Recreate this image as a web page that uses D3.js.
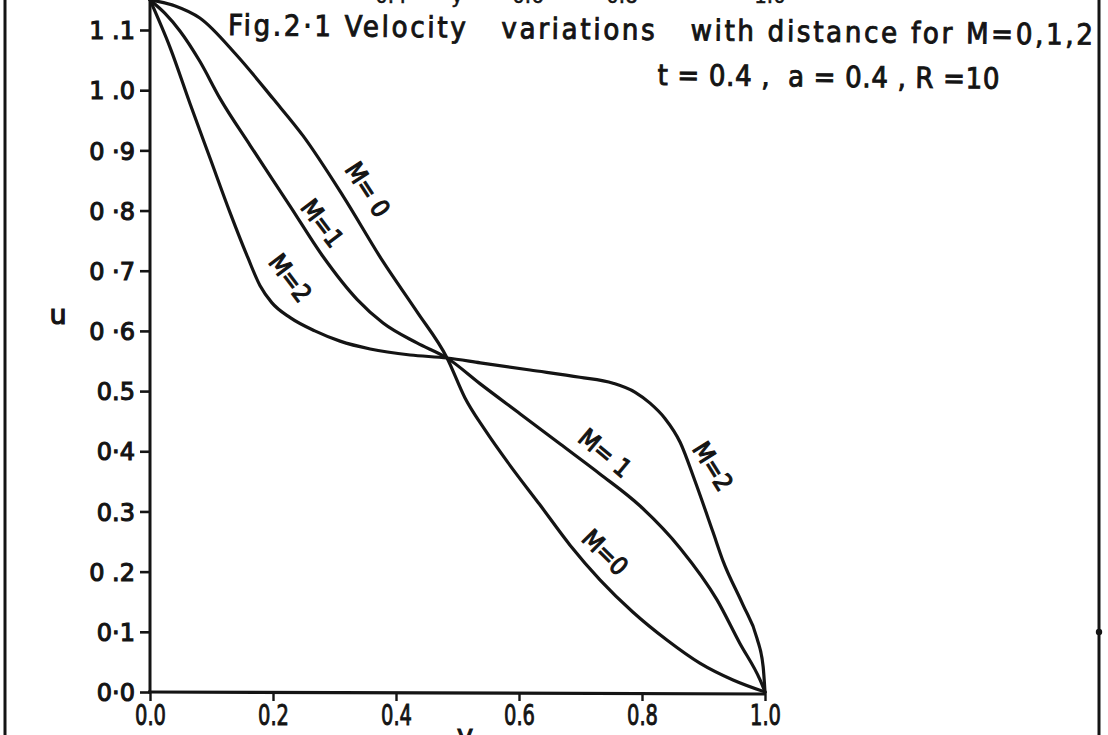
<!DOCTYPE html>
<html>
<head>
<meta charset="utf-8">
<script src="https://cdn.jsdelivr.net/npm/d3@7/dist/d3.min.js"></script>
<style>
  html, body { margin: 0; padding: 0; background: #ffffff; }
  svg { display: block; }
  text { fill: #141414; }
</style>
</head>
<body>
<script>
// Velocity profile u(y) for three values of M
const yPositions = [0, 0.2, 0.4, 0.6, 0.8, 1.0];
const xTickLabels = ["0.0", "0.2", "0.4", "0.6", "0.8", "1.0"];
const uTicks = [0, 0.1, 0.2, 0.3, 0.4, 0.5, 0.6, 0.7, 0.8, 0.9, 1.0, 1.1];
const uTickLabels = ["0·0", "0·1", "0 .2", "0.3", "0·4", "0.5", "0 ·6", "0 ·7", "0 ·8", "0 ·9", "1 .0", "1 .1"];

const seriesNames = ["M=0", "M=1", "M=2"];

const yM0 = [0, 0.041, 0.081, 0.141, 0.200, 0.249, 0.314, 0.379, 0.434, 0.483, 0.512, 0.545, 0.585, 0.634, 0.683, 0.732, 0.785, 0.841, 0.894, 0.948, 1.0];
const uM0 = [1.15, 1.140, 1.120, 1.058, 0.986, 0.924, 0.824, 0.715, 0.632, 0.555, 0.489, 0.435, 0.377, 0.311, 0.244, 0.186, 0.133, 0.086, 0.048, 0.020, 0.0];

const yM1 = [0, 0.024, 0.049, 0.081, 0.114, 0.163, 0.228, 0.281, 0.337, 0.379, 0.434, 0.483, 0.537, 0.602, 0.667, 0.732, 0.797, 0.862, 0.922, 0.959, 0.992, 1.0];
const uM1 = [1.15, 1.128, 1.098, 1.048, 0.986, 0.908, 0.807, 0.724, 0.652, 0.613, 0.580, 0.555, 0.512, 0.462, 0.412, 0.362, 0.309, 0.239, 0.153, 0.081, 0.020, 0.0];

const yM2 = [0, 0.033, 0.065, 0.098, 0.130, 0.159, 0.179, 0.198, 0.228, 0.268, 0.309, 0.358, 0.423, 0.483, 0.537, 0.618, 0.699, 0.753, 0.789, 0.813, 0.837, 0.862, 0.886, 0.915, 0.932, 0.964, 0.987, 0.997, 1.0];
const uM2 = [1.15, 1.070, 0.978, 0.886, 0.797, 0.722, 0.675, 0.647, 0.622, 0.600, 0.583, 0.570, 0.560, 0.555, 0.547, 0.535, 0.523, 0.513, 0.498, 0.480, 0.455, 0.415, 0.351, 0.267, 0.217, 0.145, 0.089, 0.042, 0.0];

const W = 1108, H = 735;
const ink = "#141414";
const condensed = "'DejaVu Sans Condensed', 'DejaVu Sans', sans-serif";

const svg = d3.select("body").append("svg")
  .attr("width", W).attr("height", H)
  .attr("viewBox", `0 0 ${W} ${H}`);

svg.append("rect").attr("width", W).attr("height", H).attr("fill", "#ffffff");

const x = d3.scaleLinear().domain([0, 1]).range([150, 765]);
const y = d3.scaleLinear().domain([0, 1.1]).range([692, 30]);

// page frame
svg.append("line").attr("x1", 5).attr("x2", 5).attr("y1", 0).attr("y2", H)
  .attr("stroke", ink).attr("stroke-width", 3);
svg.append("line").attr("x1", 1099).attr("x2", 1099).attr("y1", 0).attr("y2", H)
  .attr("stroke", ink).attr("stroke-width", 3);
svg.append("circle").attr("cx", 1099).attr("cy", 632).attr("r", 3.2).attr("fill", ink);

// lettering from the figure above, cut at the page edge
const topFrag = svg.append("g").attr("font-family", condensed)
  .attr("font-size", 22).attr("text-anchor", "middle")
  .attr("stroke", ink).attr("stroke-width", 0.5);
[["0.4", 391, 3], ["y", 457, 3], ["0.6", 528, 3], ["0.8", 622, 3], ["1.0", 770, 3]]
  .forEach(([t, px, by]) => topFrag.append("text").attr("x", px).attr("y", by).text(t));

// u axis
const yAxis = d3.axisLeft(y)
  .tickValues(uTicks)
  .tickFormat((d, i) => uTickLabels[i])
  .tickSize(10).tickPadding(5);
const gy = svg.append("g").attr("transform", `translate(${x(0)},0)`).call(yAxis);
gy.select(".domain").remove();
gy.selectAll(".tick line").attr("stroke", ink).attr("stroke-width", 2.6);
gy.selectAll(".tick text")
  .attr("font-family", "'DejaVu Sans', sans-serif")
  .attr("font-size", 24)
  .attr("stroke", ink).attr("stroke-width", 1.1)
  .attr("dy", "0.36em")
  .style("white-space", "pre")
  .attr("fill", ink);
svg.append("line")
  .attr("x1", x(0)).attr("x2", x(0)).attr("y1", 0).attr("y2", y(0) + 1)
  .attr("stroke", ink).attr("stroke-width", 3);

// y axis (horizontal)
const xAxis = d3.axisBottom(x)
  .tickValues(yPositions)
  .tickFormat((d, i) => xTickLabels[i])
  .tickSize(9).tickPadding(3);
const gx = svg.append("g").attr("transform", `translate(0,${y(0)})`).call(xAxis);
gx.select(".domain").remove();
gx.selectAll(".tick line").attr("stroke", ink).attr("stroke-width", 2.4);
gx.selectAll(".tick text")
  .attr("font-family", condensed)
  .attr("font-size", 29)
  .attr("stroke", ink).attr("stroke-width", 0.9)
  .attr("textLength", 31).attr("lengthAdjust", "spacingAndGlyphs")
  .attr("fill", ink);
svg.append("line")
  .attr("x1", x(0) - 2).attr("x2", x(1) + 1).attr("y1", y(0)).attr("y2", y(0) + 2)
  .attr("stroke", ink).attr("stroke-width", 3.2);

// axis names
svg.append("text").attr("x", 58).attr("y", 324)
  .attr("font-family", "'DejaVu Sans', sans-serif").attr("font-size", 27)
  .attr("stroke", ink).attr("stroke-width", 1.2)
  .attr("text-anchor", "middle").text("u");
svg.append("text").attr("x", 465).attr("y", 745)
  .attr("font-family", "'DejaVu Sans', sans-serif").attr("font-size", 28)
  .attr("stroke", ink).attr("stroke-width", 1)
  .attr("text-anchor", "middle").text("y");

// velocity curves
const series = [
  { name: seriesNames[0], ys: yM0, us: uM0 },
  { name: seriesNames[1], ys: yM1, us: uM1 },
  { name: seriesNames[2], ys: yM2, us: uM2 }
];
const line = d3.line()
  .x(d => x(d[0])).y(d => y(d[1]))
  .curve(d3.curveMonotoneX);
svg.append("g").selectAll("path")
  .data(series)
  .join("path")
  .attr("d", s => line(s.ys.map((v, i) => [v, s.us[i]])))
  .attr("fill", "none")
  .attr("stroke", ink)
  .attr("stroke-width", 3.2)
  .attr("stroke-linejoin", "round")
  .attr("stroke-linecap", "round");

// curve annotations, written along each curve
const notes = [
  { text: "M= 0", at: [0.354, 0.835], angle: 57 },
  { text: "M=1", at: [0.280, 0.779], angle: 53 },
  { text: "M=2", at: [0.228, 0.688], angle: 53 },
  { text: "M= 1", at: [0.740, 0.397], angle: 40 },
  { text: "M=0", at: [0.740, 0.232], angle: 45 },
  { text: "M=2", at: [0.915, 0.375], angle: 58 }
];
svg.append("g").selectAll("text")
  .data(notes)
  .join("text")
  .attr("transform", d => `translate(${x(d.at[0])},${y(d.at[1])}) rotate(${d.angle})`)
  .attr("text-anchor", "middle")
  .attr("dy", "0.35em")
  .attr("font-family", condensed)
  .attr("font-size", 25)
  .attr("stroke", ink).attr("stroke-width", 1.1)
  .style("white-space", "pre")
  .text(d => d.text);

// caption
const cap = svg.append("g")
  .attr("transform", "rotate(0.65, 228, 35)")
  .attr("font-family", condensed)
  .attr("font-size", 29)
  .attr("stroke", ink).attr("stroke-width", 0.9);
cap.append("text").attr("x", 228).attr("y", 35)
  .style("white-space", "pre")
  .attr("textLength", 865).attr("lengthAdjust", "spacing")
  .text("Fig.2·1 Velocity   variations   with distance for M=0,1,2");
cap.append("text").attr("x", 658).attr("y", 80)
  .style("white-space", "pre")
  .attr("textLength", 342).attr("lengthAdjust", "spacing")
  .text("t = 0.4 ,  a = 0.4 , R =10");
</script>
</body>
</html>
